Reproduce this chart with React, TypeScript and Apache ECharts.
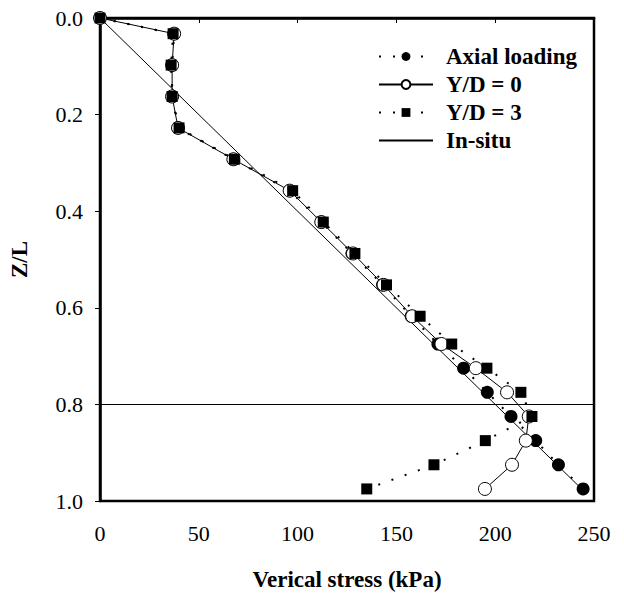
import React, { useEffect, useRef } from "react";
import * as echarts from "echarts";

// Normalised depth of each measuring point
const depthRatio = [
  0, 0.0325, 0.0975, 0.1625, 0.2275, 0.2925, 0.3575, 0.4225, 0.4875, 0.5525,
  0.6175, 0.675, 0.725, 0.775, 0.825, 0.875, 0.925, 0.975,
];

// Vertical stress (kPa) at each depth
const axialLoading = [
  0, 37.5, 36.5, 36.5, 39.5, 67.5, 96, 112, 127.5, 143, 157.5, 171, 184, 196,
  208, 220.5, 232, 244.5,
];
const yd0 = [
  0, 37.5, 36.5, 36.5, 39.5, 67.5, 96, 112, 128, 143.5, 158, 172.8, 190.2, 206,
  217, 215.5, 208.5, 194.8,
];
const yd3 = [
  0, 37, 36, 36.5, 40, 68, 97.5, 113, 129, 145, 162, 178, 195.8, 213, 218.6,
  195, 169, 135,
];

// In-situ stress line end points
const inSituStress = [0, 243.75];
const inSituDepth = [0, 0.975];

const pileTipRatio = 0.8;

const xTicks = { min: 0, max: 250, interval: 50 };
const yTicks = { min: 0, max: 1, interval: 0.2 };

const FONT = "Liberation Serif, Times New Roman, serif";

const pairs = (xs: number[], ys: number[]) => xs.map((x, i) => [x, ys[i]]);

export default function App() {
  const ref = useRef<HTMLDivElement>(null);

  useEffect(() => {
    if (!ref.current) return;
    const chart = echarts.init(ref.current, undefined, { renderer: "svg" });
    const dotted = { type: [2, 12] as any, width: 2, color: "#000" };
    const hidden = { color: "rgba(0,0,0,0)", borderColor: "rgba(0,0,0,0)", borderWidth: 0 };
    const boldText = {
      fontFamily: FONT,
      fontWeight: "bold",
      fontSize: 23,
      color: "#000",
    };
    const tickText = { fontFamily: FONT, fontSize: 22, color: "#000" };
    chart.setOption({
      animation: false,
      backgroundColor: "#fff",
      grid: {
        left: 99.5,
        right: 30,
        top: 18,
        bottom: 89,
        show: true,
        borderColor: "#000",
        borderWidth: 2.5,
        backgroundColor: "transparent",
      },
      legend: {
        orient: "vertical",
        left: 373,
        top: 40,
        itemWidth: 54,
        itemHeight: 11,
        itemGap: 5,
        data: [
          { name: "Axial loading" },
          { name: "Y/D = 0" },
          { name: "Y/D = 3" },
          { name: "In-situ", itemStyle: hidden },
        ],
        textStyle: {
          ...boldText,
          lineHeight: 23,
          padding: [0, 0, 0, 8],
        },
      },
      xAxis: {
        type: "value",
        ...xTicks,
        name: "Verical stress (kPa)",
        nameLocation: "middle",
        nameGap: 67,
        nameTextStyle: boldText,
        axisLine: { show: true, lineStyle: { color: "#000", width: 2.5 } },
        axisTick: { show: true, length: 5, lineStyle: { color: "#000", width: 1 } },
        axisLabel: { margin: 21, ...tickText },
        splitLine: { show: false },
      },
      yAxis: {
        type: "value",
        inverse: true,
        ...yTicks,
        name: "Z/L",
        nameLocation: "middle",
        nameGap: 69,
        nameRotate: 90,
        nameTextStyle: boldText,
        axisLine: { show: true, lineStyle: { color: "#000", width: 2.5 } },
        axisTick: { show: true, length: 5, lineStyle: { color: "#000", width: 1 } },
        axisLabel: {
          margin: 17,
          ...tickText,
          formatter: (v: number) => v.toFixed(1),
        },
        splitLine: { show: false },
      },
      series: [
        {
          name: "In-situ",
          type: "line",
          data: pairs(inSituStress, inSituDepth),
          symbol: "none",
          lineStyle: { color: "#000", width: 1 },
          itemStyle: { color: "#000" },
          z: 1,
          markLine: {
            silent: true,
            symbol: "none",
            label: { show: false },
            lineStyle: { color: "#000", width: 1, type: "solid" },
            data: [{ yAxis: pileTipRatio }],
          },
        },
        {
          name: "Axial loading",
          type: "line",
          data: pairs(axialLoading, depthRatio),
          symbol: "circle",
          symbolSize: 13,
          lineStyle: dotted,
          itemStyle: { color: "#000", borderColor: "#000", borderWidth: 0 },
          z: 2,
        },
        {
          name: "Y/D = 0",
          type: "line",
          data: pairs(yd0, depthRatio),
          symbol: "circle",
          symbolSize: 13,
          lineStyle: { color: "#000", width: 1 },
          itemStyle: { color: "#fff", borderColor: "#000", borderWidth: 1 },
          z: 3,
        },
        {
          name: "Y/D = 3",
          type: "line",
          data: pairs(yd3, depthRatio),
          symbol: "rect",
          symbolSize: 11,
          lineStyle: dotted,
          itemStyle: { color: "#000", borderColor: "#000", borderWidth: 0 },
          z: 4,
        },
      ],
    });
    return () => chart.dispose();
  }, []);

  return (
    <div
      ref={ref}
      style={{ position: "absolute", left: 0, top: 0, width: 624, height: 596 }}
    />
  );
}
